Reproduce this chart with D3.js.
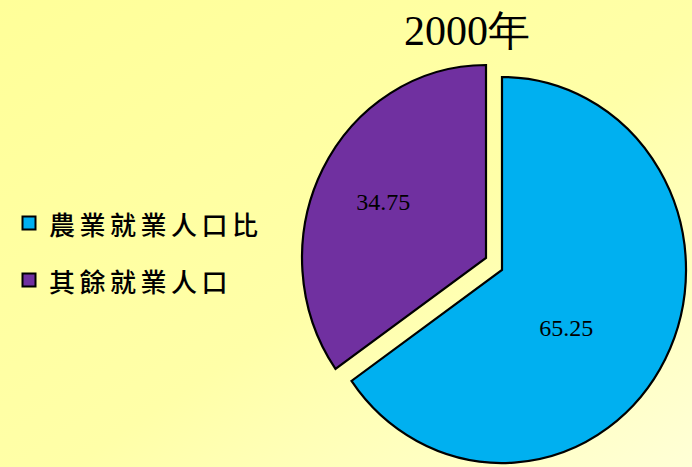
<!DOCTYPE html>
<html><head><meta charset="utf-8">
<script src="https://cdn.jsdelivr.net/npm/d3@7"></script>
<style>html,body{margin:0;padding:0;overflow:hidden;}</style>
</head><body>
<svg id="chart" width="692" height="467"></svg>
<script>
const title = "2000年";
const categories = ["農業就業人口比", "其餘就業人口"];
const values = [65.25, 34.75];
const colors = ["#00B0F0", "#7030A0"];

const W = 692, H = 467;
const svg = d3.select("#chart");
const defs = svg.append("defs");
const grad = defs.append("linearGradient").attr("id", "bg")
  .attr("x1", "0").attr("y1", "0").attr("x2", "1").attr("y2", "1");
grad.append("stop").attr("offset", "0").attr("stop-color", "#FFFF99");
grad.append("stop").attr("offset", "0.55").attr("stop-color", "#FFFFA8");
grad.append("stop").attr("offset", "1").attr("stop-color", "#FFFFD6");
svg.append("rect").attr("width", W).attr("height", H).attr("fill", "url(#bg)");

// title
svg.append("text").attr("x", 467).attr("y", 45)
  .attr("text-anchor", "middle")
  .style("font-family", "'Liberation Serif','Times New Roman',serif")
  .style("font-size", "42px").attr("fill", "#000")
  .text(title);

// pie
const cx = 502, cy = 270, rx = 184, ry = 193;
const pie = d3.pie().sort(null).value(d => d);
const arcs = pie(values);
const arc = d3.arc().innerRadius(0).outerRadius(1);
const explode = [[0, 0], [-16, -12]];
const labelR = [0.46, 0.63];
const labelDA = [0.23, 0];

const g = svg.append("g").attr("transform", `translate(${cx},${cy})`);
arcs.forEach((a, i) => {
  const sg = g.append("g").attr("transform", `translate(${explode[i][0]},${explode[i][1]})`);
  sg.append("path")
    .attr("d", arc(a))
    .attr("transform", `scale(${rx},${ry})`)
    .attr("fill", colors[i])
    .attr("stroke", "#000")
    .attr("stroke-width", 2.2)
    .attr("vector-effect", "non-scaling-stroke")
    .attr("stroke-linejoin", "miter");
  const mid = (a.startAngle + a.endAngle) / 2 + labelDA[i];
  const lx = Math.sin(mid) * rx * labelR[i];
  const ly = -Math.cos(mid) * ry * labelR[i];
  sg.append("text")
    .attr("x", lx).attr("y", ly)
    .attr("text-anchor", "middle").attr("dominant-baseline", "central")
    .style("font-family", "'Liberation Serif','Times New Roman',serif")
    .style("font-size", "24px").attr("fill", "#000")
    .text(d3.format(".2f")(values[i]));
});

// legend
const leg = svg.append("g");
categories.forEach((c, i) => {
  const y = 223 + i * 57;
  leg.append("rect").attr("x", 22.5).attr("y", y - 6.5)
    .attr("width", 13).attr("height", 13)
    .attr("fill", colors[i]).attr("stroke", "#000").attr("stroke-width", 2);
  leg.append("text").attr("x", 49).attr("y", y)
    .attr("dominant-baseline", "central")
    .style("font-family", "'Noto Sans CJK TC','Noto Sans CJK SC',sans-serif")
    .style("font-size", "26px").style("letter-spacing", "4.5px")
    .style("font-weight", "500")
    .attr("fill", "#000")
    .text(c);
});
</script>
</body></html>
